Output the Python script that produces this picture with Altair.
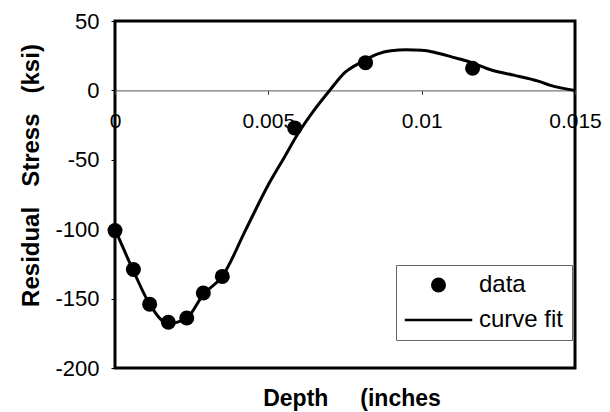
import altair as alt
import pandas as pd

# ---- data ----
data_depth = [0.0, 0.0006, 0.00113, 0.00174, 0.00234, 0.00288, 0.0035, 0.00586, 0.00817, 0.01166]
data_stress = [-101, -129, -154, -167, -164, -146, -134, -27, 20, 16]

fit_depth = [0.0, 0.0006, 0.00113, 0.00174, 0.00234, 0.00288, 0.0035, 0.00425, 0.005, 0.0055,
             0.006, 0.0065, 0.007, 0.0075, 0.008, 0.0086, 0.009, 0.0095, 0.01, 0.0105,
             0.011, 0.0115, 0.0123, 0.013, 0.0138, 0.0142, 0.015]
fit_stress = [-100, -130, -154, -168, -164, -147, -134, -101, -68, -49,
              -30, -14, 0, 13, 20, 26.5, 28.5, 29.2, 29, 27,
              24, 21, 14.5, 11, 6.7, 3.6, 0]

x_ticks = [0, 0.005, 0.01, 0.015]
y_ticks = [-200, -150, -100, -50, 0, 50]
series_names = ["data", "curve fit"]

df_data = pd.DataFrame({"depth": data_depth, "stress": data_stress, "series": series_names[0]})
df_fit = pd.DataFrame({"depth": fit_depth, "stress": fit_stress, "series": series_names[1]})

FONT = "Liberation Sans"
NB = "\u00a0"

x_enc = alt.X(
    "depth:Q",
    scale=alt.Scale(domain=[0, 0.015], nice=False, zero=False),
    axis=alt.Axis(
        values=x_ticks, labelExpr="format(datum.value, '~g')",
        offset=-277.6, grid=False, labelFlush=False, labelOverlap=False,
        domainColor="#555", domainWidth=1, tickColor="#333", tickSize=4,
        labelPadding=16, labelFont=FONT, labelFontSize=21, labelColor="black",
        title="Depth" + NB * 5 + "(inches", titleX=236.5, titleY=315,
        titleBaseline="alphabetic", titleAlign="center", titleFont=FONT,
        titleFontSize=23, titleFontWeight="bold", titleColor="black",
    ),
)
y_enc = alt.Y(
    "stress:Q",
    scale=alt.Scale(domain=[-200, 50], nice=False),
    axis=alt.Axis(
        values=y_ticks, grid=False, domain=False, tickSize=4, tickColor="black",
        labelExpr="datum.value < 0 ? '-' + abs(datum.value) : '' + datum.value",
        labelPadding=12, labelFont=FONT, labelFontSize=22, labelColor="black",
        title="Residual" + NB * 3 + "Stress" + NB * 3 + "(ksi)",
        titleX=-77, titleY=154, titleBaseline="alphabetic", titleAlign="center",
        titleAngle=270, titleFont=FONT, titleFontSize=24, titleFontWeight="bold",
        titleColor="black",
    ),
)

legend = alt.Legend(
    title=None, orient="none", legendX=281, legendY=244, padding=8,
    strokeColor="#666", fillColor="white",
    symbolSize=225, symbolOffset=22.5, labelOffset=28.5,
    labelFont=FONT, labelFontSize=24, labelColor="black", rowPadding=11,
    symbolType=alt.ExprRef("datum.value === 'data' ? 'circle' : 'M-4.5,0H4.5'"),
    symbolStrokeWidth=alt.ExprRef("datum.value === 'data' ? 0 : 2.5"),
    symbolStrokeColor="black",
    symbolFillColor="black",
    symbolOpacity=1,
)

color_enc = alt.Color(
    "series:N",
    scale=alt.Scale(domain=series_names, range=["black", "black"]),
    legend=legend,
)

line = alt.Chart(df_fit).mark_line(interpolate="monotone", strokeWidth=3).encode(
    x=x_enc, y=y_enc, color=color_enc
)
points = alt.Chart(df_data).mark_circle(size=225, opacity=1).encode(
    x=x_enc, y=y_enc, color=color_enc
)

chart = (
    alt.layer(line, points)
    .properties(
        width=460, height=347,
        autosize=alt.AutoSizeParams(type="none"),
        padding={"left": 107, "top": 13, "right": 27, "bottom": 44},
        background="white",
    )
    .configure_view(stroke="black", strokeWidth=3)
)

chart.save("out.html", embed_options={"renderer": "svg", "actions": False})
